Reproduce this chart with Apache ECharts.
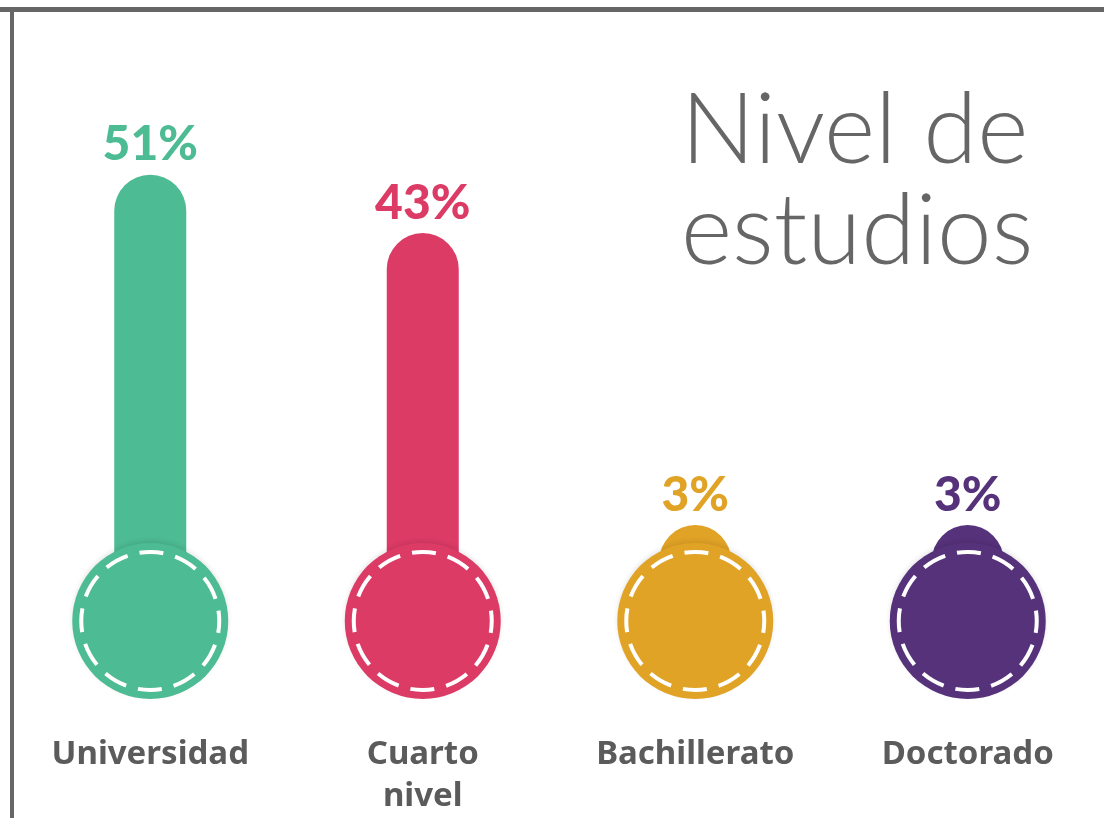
<!DOCTYPE html>
<html>
<head>
<meta charset="utf-8">
<script src="https://cdn.jsdelivr.net/npm/echarts@6/dist/echarts.min.js"></script>
<style>
  html, body { margin: 0; padding: 0; background: #fff; }
  #chart { width: 1104px; height: 818px; }
</style>
</head>
<body>
<div id="chart"></div>
<script>
// ---- data ----
const categories = ['Universidad', 'Cuarto\nnivel', 'Bachillerato', 'Doctorado'];
const values = [51, 43, 3, 3];
const titleLines = ['Nivel de', 'estudios'];
// ---- palette ----
const palette = ['#4dbb93', '#dc3b66', '#e1a326', '#56327b'];

const chart = echarts.init(document.getElementById('chart'));

const option = {
  backgroundColor: '#ffffff',
  animation: false,
  title: {
    text: titleLines.join('\n'),
    left: 676,
    top: 76,
    textStyle: {
      fontFamily: 'Lato',
      fontWeight: 300,
      fontSize: 98,
      lineHeight: 101,
      color: '#666666'
    }
  },
  grid: { left: 14, top: 109, width: 1107, height: 439 },
  xAxis: {
    type: 'category',
    data: categories,
    axisLine: { show: false },
    axisTick: { show: false },
    axisLabel: {
      margin: 187,
      fontFamily: 'Noto Sans',
      fontWeight: 'bold',
      fontSize: 33,
      lineHeight: 42,
      color: '#5b5b5b'
    }
  },
  yAxis: {
    type: 'value',
    min: 0,
    max: 60,
    show: false,
    splitLine: { show: false }
  },
  graphic: [
    { type: 'rect', shape: { x: 0, y: 7, width: 1104, height: 5 }, style: { fill: '#666666' }, z: 100 },
    { type: 'rect', shape: { x: 10, y: 7, width: 4, height: 811 }, style: { fill: '#666666' }, z: 100 }
  ],
  series: [{
    type: 'custom',
    data: values.map((v, i) => [i, v]),
    renderItem: function (params, api) {
      const i = api.value(0);
      const v = api.value(1);
      const base = api.coord([i, 0]);
      const top = api.coord([i, v]);
      const x = base[0];
      const cy = base[1] + 74;
      const yt = top[1];
      const color = palette[params.dataIndex];
      return {
        type: 'group',
        children: [
          {
            type: 'rect',
            shape: { x: x - 36, y: yt, width: 72, height: cy - yt, r: [36, 36, 0, 0] },
            style: { fill: color }
          },
          {
            type: 'circle',
            shape: { cx: x, cy: cy, r: 78 },
            style: {
              fill: color,
              shadowColor: 'rgba(0,0,0,0.10)',
              shadowBlur: 5,
              shadowOffsetY: -2
            }
          },
          {
            type: 'circle',
            shape: { cx: x, cy: cy, r: 69 },
            style: { fill: 'none', stroke: '#ffffff', lineWidth: 4, lineDash: [24, 12.2], lineDashOffset: 12 }
          },
          {
            type: 'text',
            style: {
              text: v + '%',
              x: x,
              y: yt - 6,
              align: 'center',
              verticalAlign: 'bottom',
              fontFamily: 'Lato',
              fontWeight: 900,
              fontSize: 48,
              fill: color
            }
          }
        ]
      };
    }
  }]
};

chart.setOption(option);
</script>
</body>
</html>
